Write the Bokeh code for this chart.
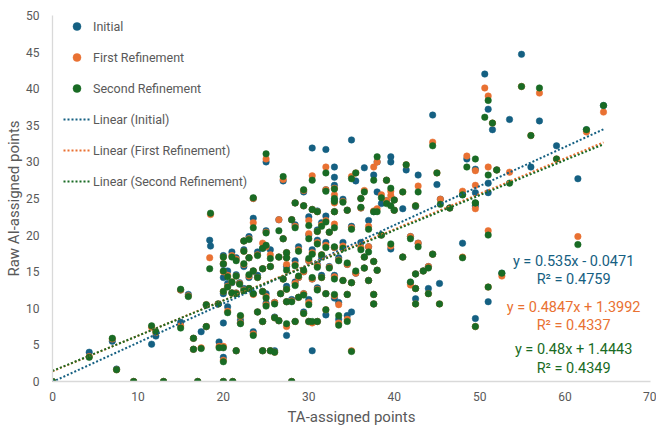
from bokeh.plotting import figure
from bokeh.models import Legend, LegendItem, Label
from bokeh.embed import file_html
from bokeh.resources import INLINE

# ---------------- data ----------------
ta_points = [
    0, 4.3, 7.0, 7.5, 9.5, 11.6, 12.1, 13.0, 15.0, 15.0, 15.9, 16.5, 16.5, 17.0, 17.4, 18.0, 18.0, 18.4, 18.5, 19.4, 19.5,
    20.0, 20.0, 20.0, 20.0, 20.0, 20.0, 20.0, 20.5, 20.5, 20.5, 21.0, 21.0, 21.0, 21.1, 21.5, 21.5, 21.5, 21.5, 22.0, 22.0, 21.9,
    22.4, 22.4, 22.4, 22.4, 23.0, 23.0, 23.0, 23.0, 23.5, 23.5, 23.5, 23.5, 23.5, 24.0, 24.0, 24.0, 24.6, 24.6, 24.6, 24.6, 24.6,
    25.0, 25.0, 25.0, 25.0, 25.0, 25.5, 25.5, 25.5, 26.0, 26.0, 26.0, 26.5, 26.5, 26.7, 26.5, 27.0, 27.0, 27.0, 27.4, 27.4, 27.4, 27.4, 27.4, 27.4,
    28.0, 28.0, 28.0, 28.4, 28.4, 28.4, 28.4, 28.4, 28.8, 28.8, 28.8, 29.4, 29.4, 29.4, 29.4, 29.4, 30.0, 30.0, 30.0, 30.0, 30.0, 30.4, 30.4, 30.4, 30.4, 30.4,
    31.0, 31.0, 31.0, 31.0, 31.0, 31.0, 31.5, 31.5, 31.5, 32.0, 32.0, 32.0, 32.0, 32.0, 32.0, 32.4, 32.4, 33.0, 33.0, 33.0, 33.0, 33.0, 33.0, 33.0, 33.0, 33.5, 33.5, 33.5,
    34.0, 34.0, 34.0, 34.5, 34.5, 34.5, 34.5, 35.0, 35.0, 35.0, 35.0, 35.5, 35.5, 36.1, 36.1, 36.1, 36.5, 36.5, 36.5, 37.0, 37.0, 37.0, 37.6, 37.6, 37.6, 37.6, 37.6, 38.0, 38.0, 38.0,
    38.5, 38.5, 39.1, 39.1, 39.6, 39.6, 39.6, 40.0, 40.0, 41.0, 41.0, 41.4, 41.9, 41.9, 42.5, 42.8, 42.8, 42.5, 42.5, 42.5, 43.4, 44.0, 44.0, 44.5, 44.5, 45.0, 45.3, 45.4, 46.5,
    48.0, 48.0, 48.5, 49.5, 49.5, 49.5, 49.5, 50.6, 51.0, 51.0, 51.0, 51.0, 51.5, 52.0, 52.6, 53.5, 54.9, 56.0, 57.0, 59.0, 61.5, 62.5, 64.5,
]
ai_initial = [
    0, 4.0, 5.5, 1.7, 0, 5.1, 6.2, 0, 8.1, 12.5, 11.9, 5.9, 4.4, 0, 6.8, 10.4, 7.5, 19.3, 18.5, 10.6, 5.4,
    17.2, 16.0, 12.0, 8.0, 3.3, 0, 14.2, 15.1, 10.2, 13.4, 17.7, 13.5, 12.1, 0, 16.9, 14.6, 4.2, 12.1, 8.4, 8.0, 13.5,
    18.0, 15.7, 19.2, 12.7, 19.8, 16.9, 14.2, 12.7, 22.3, 6.8, 25.0, 15.1, 12.0, 17.7, 9.5, 14.5, 8.2, 4.2, 18.2, 15.4, 12.3,
    20.6, 30.0, 12.0, 10.7, 18.4, 18.0, 4.2, 15.7, 4.2, 8.8, 10.8, 22.1, 17.0, 12.0, 8.3, 27.4, 19.5, 14.0, 17.6, 16.9, 6.3, 10.9, 15.7, 13.0,
    22.1, 0, 11.2, 21.4, 13.6, 8.2, 24.4, 16.5, 18.4, 14.2, 11.5, 25.9, 24.0, 12.0, 9.5, 15.0, 22.5, 20.0, 11.2, 8.2, 16.5, 31.9, 23.5, 4.2, 14.0, 18.0,
    23.3, 20.7, 19.3, 8.2, 12.8, 16.0, 21.7, 17.0, 14.5, 31.7, 26.2, 22.6, 19.0, 9.1, 12.0, 20.4, 15.7, 29.3, 27.9, 26.8, 24.8, 23.2, 18.3, 11.4, 14.5, 16.9, 10.8, 8.5,
    24.9, 19.0, 13.8, 23.4, 9.0, 11.9, 16.0, 33.0, 9.5, 21.2, 13.5, 27.4, 14.8, 25.0, 23.7, 19.0, 29.2, 17.0, 15.5, 13.8, 18.4, 22.0, 28.2, 11.9, 10.6, 23.2, 16.4, 30.0, 25.9, 15.2,
    24.3, 20.0, 27.5, 24.7, 30.7, 30.0, 18.1, 24.8, 23.4, 23.6, 17.0, 28.9, 13.5, 19.8, 23.9, 28.2, 18.9, 11.3, 14.7, 12.7, 15.1, 12.7, 15.7, 36.4, 17.4, 26.9, 13.4, 24.9, 23.7,
    18.9, 25.5, 30.4, 29.0, 25.8, 8.6, 24.0, 42.0, 37.2, 27.1, 25.8, 10.9, 34.4, 28.9, 14.8, 35.8, 44.7, 29.3, 35.6, 32.2, 27.7, 34.4, 37.7,
]
ai_first = [
    0, 3.4, 5.8, 1.6, 0, 7.4, 6.7, 0, 7.6, 12.5, 11.7, 5.9, 4.4, 0, 4.6, 10.5, 7.5, 16.9, 22.8, 10.6, 4.8,
    17.0, 16.1, 12.3, 4.8, 2.9, 0, 15.0, 14.5, 9.6, 13.0, 17.2, 13.6, 12.1, 0, 16.7, 14.4, 4.2, 12.1, 8.9, 8.0, 13.4,
    17.8, 16.0, 19.2, 12.5, 19.5, 16.9, 14.4, 12.7, 21.7, 6.5, 25.0, 15.1, 11.9, 17.3, 9.5, 14.2, 8.2, 4.2, 18.9, 15.4, 12.3,
    20.4, 30.4, 11.6, 10.5, 18.4, 17.3, 4.2, 15.7, 4.0, 8.7, 10.8, 22.1, 17.0, 12.0, 8.3, 27.6, 19.5, 14.0, 17.6, 16.9, 7.5, 10.9, 16.0, 12.6,
    22.1, 0, 11.0, 21.2, 13.4, 8.2, 24.4, 16.0, 18.0, 14.2, 11.5, 26.1, 24.0, 12.0, 9.3, 15.0, 22.0, 20.2, 10.8, 8.2, 16.5, 28.1, 23.5, 8.0, 14.0, 17.6,
    23.2, 20.5, 19.0, 8.2, 12.6, 15.8, 21.4, 17.3, 14.2, 29.3, 26.2, 22.0, 18.6, 9.8, 12.0, 20.4, 15.6, 25.5, 21.5, 26.4, 24.4, 23.2, 18.3, 11.7, 14.3, 16.6, 10.5, 8.0,
    24.6, 18.5, 13.8, 23.4, 8.5, 11.9, 16.0, 28.0, 4.2, 21.0, 13.5, 28.5, 14.8, 25.0, 23.7, 18.3, 26.1, 17.0, 15.5, 13.8, 18.4, 21.2, 29.3, 11.9, 10.6, 23.3, 16.4, 30.0, 23.6, 15.2,
    25.5, 20.0, 27.5, 24.7, 26.0, 25.4, 18.5, 24.8, 23.4, 25.9, 17.0, 29.6, 13.2, 19.8, 24.0, 26.7, 18.9, 10.6, 14.7, 12.7, 15.1, 12.0, 15.7, 32.7, 17.4, 28.5, 10.6, 24.9, 23.7,
    17.0, 26.0, 30.8, 28.8, 26.8, 7.5, 23.6, 40.1, 39.0, 29.3, 20.6, 12.9, 35.3, 28.9, 14.4, 28.6, 40.3, 33.6, 39.4, 30.4, 19.8, 34.1, 36.8,
]
ai_second = [
    0, 3.3, 5.9, 1.6, 0, 7.6, 6.8, 0, 7.3, 12.6, 11.6, 5.9, 4.4, 0, 4.5, 10.5, 7.5, 15.4, 23.0, 10.6, 4.6,
    17.0, 16.1, 12.3, 4.6, 2.7, 0, 15.1, 14.3, 9.4, 12.9, 17.0, 13.6, 12.1, 0, 16.5, 14.4, 4.2, 12.0, 9.0, 7.9, 13.3,
    17.8, 16.1, 19.2, 12.4, 19.4, 16.9, 14.6, 12.7, 21.0, 6.3, 25.1, 15.1, 12.0, 17.2, 9.5, 14.2, 8.2, 4.2, 18.2, 15.4, 12.3,
    20.3, 31.1, 11.4, 10.3, 18.6, 16.8, 4.2, 15.7, 4.0, 8.7, 10.6, 20.6, 17.0, 12.0, 8.3, 28.0, 19.5, 14.0, 17.6, 16.9, 7.9, 10.9, 15.2, 12.6,
    22.1, 0, 10.9, 21.0, 13.1, 8.2, 24.4, 15.8, 17.8, 14.4, 11.5, 26.2, 24.0, 11.8, 9.3, 15.2, 21.3, 19.5, 10.5, 8.2, 16.8, 27.5, 23.5, 8.2, 14.2, 17.4,
    23.2, 20.5, 18.8, 8.2, 12.5, 15.6, 21.2, 17.3, 14.2, 28.5, 26.0, 21.8, 18.3, 9.8, 12.0, 20.4, 15.5, 25.0, 21.0, 26.3, 24.6, 23.2, 18.4, 11.9, 14.0, 16.5, 9.0, 7.7,
    24.5, 18.2, 13.8, 23.4, 8.2, 11.9, 16.2, 27.7, 4.1, 20.8, 13.5, 28.5, 15.1, 25.0, 23.8, 18.0, 25.9, 17.0, 15.5, 13.8, 17.7, 20.8, 27.5, 11.9, 10.6, 23.2, 16.4, 30.7, 23.2, 15.2,
    25.1, 20.0, 27.5, 24.3, 26.4, 24.0, 18.8, 24.8, 23.4, 25.9, 17.0, 29.6, 13.6, 19.5, 24.0, 25.9, 18.4, 10.6, 14.7, 12.7, 15.1, 12.0, 15.5, 32.2, 17.4, 28.5, 10.6, 24.2, 23.7,
    16.9, 25.5, 29.3, 30.4, 24.4, 7.5, 24.4, 36.1, 38.4, 28.2, 20.0, 12.9, 35.3, 28.9, 14.8, 27.1, 40.3, 33.6, 40.1, 30.4, 18.7, 34.4, 37.7,
]

series_names = ["Initial", "First Refinement", "Second Refinement"]
series_colors = ["#156082", "#E97132", "#196B24"]
trend_slopes = [0.535, 0.4847, 0.48]
trend_intercepts = [-0.0471, 1.3992, 1.4443]
trend_r2 = [0.4759, 0.4337, 0.4349]
x_ticks = [0, 10, 20, 30, 40, 50, 60, 70]
y_ticks = [0, 5, 10, 15, 20, 25, 30, 35, 40, 45, 50]

assert len(ta_points) == len(ai_initial) == len(ai_first) == len(ai_second), (
    len(ta_points), len(ai_initial), len(ai_first), len(ai_second))

FONT = "Roboto"
GREY = "#595959"

p = figure(width=656, height=428, x_range=(0, 70), y_range=(0, 50),
           output_backend="svg", toolbar_location=None,
           min_border_left=52, min_border_right=6, min_border_top=15, min_border_bottom=46)
p.outline_line_color = None
p.xgrid.visible = False
p.ygrid.visible = False
p.background_fill_color = "white"
p.border_fill_color = "white"

for ax, ticks in ((p.xaxis, x_ticks), (p.yaxis, y_ticks)):
    ax.ticker = ticks
    ax.axis_line_color = "#d9d9d9"
    ax.axis_line_width = 1.3
    ax.major_tick_line_color = None
    ax.minor_tick_line_color = None
    ax.major_tick_out = 0
    ax.major_tick_in = 0
    ax.minor_tick_out = 0
    ax.minor_tick_in = 0
    ax.major_label_text_color = GREY
    ax.major_label_text_font = FONT
    ax.major_label_text_font_size = "12px"
    ax.axis_label_text_color = GREY
    ax.axis_label_text_font = FONT
    ax.axis_label_text_font_size = "15px"
    ax.axis_label_text_font_style = "normal"

p.xaxis.axis_label = "TA-assigned points"
p.yaxis.axis_label = "Raw AI-assigned points"
p.xaxis.major_label_standoff = 10
p.yaxis.major_label_standoff = 13
p.xaxis.axis_label_standoff = 4
p.yaxis.axis_label_standoff = 0

series_values = [ai_initial, ai_first, ai_second]
scatter_items = []
line_items = []
x_lo, x_hi = min(ta_points), max(ta_points)
for name, color, ys in zip(series_names, series_colors, series_values):
    r = p.scatter(ta_points, ys, marker="circle", size=6.5,
                  fill_color=color, line_color=color, line_width=0.5)
    scatter_items.append(LegendItem(label=name, renderers=[r]))

for name, color, m, b in zip(series_names, series_colors, trend_slopes, trend_intercepts):
    xs = [x_lo, x_hi]
    ln = p.line(xs, [m * x + b for x in xs], line_color=color, line_width=2,
                line_dash="2 2")
    line_items.append(LegendItem(label=f"Linear ({name})", renderers=[ln]))

legend = Legend(items=scatter_items + line_items, location=(11, 190),
                background_fill_alpha=0, border_line_color=None, padding=0,
                margin=0, spacing=11, glyph_width=27, glyph_height=20,
                label_height=20, label_standoff=3,
                label_text_font=FONT, label_text_font_size="12.5px",
                label_text_color=GREY)
p.add_layout(legend)

label_x = 61.0
label_rows = [(16.4, 13.95), (10.1, 7.65), (4.4, 1.8)]
for color, m, b, r2, (ye, yr) in zip(series_colors, trend_slopes, trend_intercepts,
                                      trend_r2, label_rows):
    sign = "+" if b >= 0 else "-"
    eq = f"y = {m:g}x {sign} {abs(b):g}"
    for txt, yy in ((eq, ye), (f"R\u00b2 = {r2:g}", yr)):
        p.add_layout(Label(x=label_x, y=yy, text=txt, text_align="center",
                           text_baseline="middle", text_color=color,
                           text_font=FONT, text_font_size="14.5px"))

open("out.html", "w").write(file_html(p, INLINE))
